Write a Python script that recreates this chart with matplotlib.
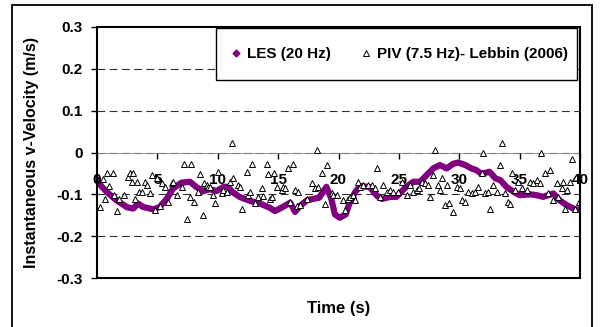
import matplotlib
matplotlib.use("Agg")
import matplotlib.pyplot as plt
from matplotlib.lines import Line2D
from matplotlib.patches import Rectangle

plt.rcParams['font.family'] = ['Liberation Sans', 'DejaVu Sans']
plt.rcParams['font.weight'] = 'bold'

# LES (20 Hz)
les_t = [0.0, 0.4, 0.8, 1.6, 2.5, 3.0, 3.4, 3.8, 4.7, 5.2, 5.8, 6.3, 7.0, 7.7, 8.25,
         8.8, 9.35, 9.9, 10.5, 10.8, 11.3, 11.8, 12.7, 13.5, 14.3, 14.75, 15.4, 16.0,
         16.4, 16.8, 17.4, 18.4, 19.0, 19.4, 19.7, 20.1, 20.6, 20.95, 21.4, 21.8, 22.6,
         23.2, 23.6, 24.3, 24.8, 25.6, 26.2, 26.75, 27.3, 27.85, 28.4, 28.95, 29.5, 29.9,
         30.5, 31.0, 31.4, 31.85, 32.5, 33.0, 33.4, 33.9, 34.5, 35.0, 35.9, 36.4, 36.95,
         37.8, 38.3, 38.9, 39.6, 40.0]
les_v = [-0.065, -0.082, -0.094, -0.114, -0.131, -0.134, -0.122, -0.130, -0.136, -0.130,
         -0.110, -0.086, -0.072, -0.070, -0.083, -0.092, -0.088, -0.092, -0.082, -0.082,
         -0.096, -0.106, -0.116, -0.122, -0.132, -0.140, -0.130, -0.120, -0.142, -0.128,
         -0.114, -0.108, -0.082, -0.110, -0.148, -0.156, -0.148, -0.118, -0.094, -0.080,
         -0.083, -0.104, -0.111, -0.106, -0.106, -0.082, -0.070, -0.070, -0.054, -0.038,
         -0.030, -0.038, -0.027, -0.024, -0.030, -0.038, -0.042, -0.051, -0.046, -0.062,
         -0.066, -0.082, -0.094, -0.102, -0.100, -0.102, -0.106, -0.098, -0.114, -0.126,
         -0.136, -0.137]

# PIV (7.5 Hz) - Lebbin (2006)
piv_t = [0.25, 0.47, 0.66, 0.86, 1.02, 1.30, 1.44, 1.63, 1.82, 2.24, 2.60, 2.73, 2.87,
         3.00, 3.15, 3.29, 3.50, 3.70, 3.98, 4.11, 4.39, 4.53, 4.80, 4.94, 5.22, 5.36,
         5.63, 5.90, 6.19, 6.32, 6.60, 7.01, 7.20, 7.43, 7.70, 7.76, 8.03, 8.39, 8.53,
         8.80, 8.86, 9.08, 9.22, 9.36, 9.63, 9.77, 10.05, 10.33, 10.46, 10.74, 11.01,
         11.22, 11.29, 11.70, 11.84, 11.98, 12.40, 12.53, 12.67, 12.81, 13.09, 13.36,
         13.64, 13.77, 14.05, 14.19, 14.33, 14.47, 14.66, 14.88, 15.30, 15.43, 15.57,
         15.84, 15.98, 16.20, 16.40, 16.59, 16.67, 16.81, 17.37, 17.78, 18.05, 18.22,
         18.33, 18.61, 18.88, 19.02, 19.44, 19.57, 19.85, 20.40, 20.54, 20.81, 20.95,
         21.23, 21.37, 21.64, 21.78, 22.05, 22.47, 22.75, 23.02, 23.21, 23.44, 23.71,
         23.99, 24.27, 24.54, 24.95, 25.23, 25.65, 25.92, 26.20, 26.48, 26.69, 26.89,
         27.16, 27.44, 27.58, 27.85, 27.98, 28.27, 28.40, 28.54, 28.82, 28.96, 29.18,
         29.46, 29.79, 30.06, 30.20, 30.48, 30.75, 31.03, 31.30, 31.58, 31.86, 31.95,
         32.13, 32.40, 32.55, 32.77, 33.10, 33.37, 33.52, 33.79, 34.06, 34.20, 34.34,
         34.60, 34.89, 35.17, 35.59, 35.86, 36.13, 36.41, 36.69, 36.77, 37.10, 37.38,
         37.52, 37.79, 38.07, 38.21, 38.48, 38.62, 38.76, 38.90, 39.17, 39.36, 39.59,
         39.94]
piv_v = [-0.130, -0.064, -0.112, -0.050, -0.080, -0.050, -0.102, -0.139, -0.112, -0.102,
         -0.059, -0.050, -0.070, -0.050, -0.112, -0.070, -0.094, -0.094, -0.070, -0.078,
         -0.098, -0.054, -0.138, -0.062, -0.128, -0.074, -0.083, -0.118, -0.074, -0.070,
         -0.102, -0.082, -0.028, -0.160, -0.106, -0.028, -0.118, -0.094, -0.051, -0.150,
         -0.074, -0.078, -0.083, -0.082, -0.102, -0.120, -0.046, -0.098, -0.090, -0.094,
         -0.070, 0.023, -0.062, -0.078, -0.082, -0.134, -0.046, -0.102, -0.094, -0.028,
         -0.120, -0.106, -0.086, -0.104, -0.028, -0.051, -0.112, -0.106, -0.050, -0.083,
         -0.090, -0.082, -0.086, -0.038, -0.118, -0.028, -0.090, -0.128, -0.094, -0.126,
         -0.110, -0.074, -0.086, 0.006, -0.082, -0.050, -0.122, -0.030, -0.098, -0.102,
         -0.102, -0.114, -0.138, -0.110, -0.106, -0.102, -0.114, -0.070, -0.082, -0.078,
         -0.078, -0.078, -0.086, -0.036, -0.106, -0.078, -0.094, -0.090, -0.094, -0.094,
         -0.070, -0.102, -0.078, -0.094, -0.090, -0.086, -0.070, -0.074, -0.078, -0.106,
         -0.054, 0.007, -0.078, -0.090, -0.062, -0.126, -0.078, -0.120, -0.142, -0.082,
         -0.086, -0.114, -0.118, -0.094, -0.098, -0.094, -0.082, -0.050, 0.000, -0.098,
         -0.094, -0.134, -0.078, -0.094, -0.030, 0.023, -0.098, -0.118, -0.122, -0.050,
         -0.090, -0.070, -0.086, -0.090, -0.070, -0.074, -0.066, -0.074, 0.000, -0.050,
         -0.098, -0.042, -0.114, -0.074, -0.106, -0.086, -0.070, -0.134, -0.090, -0.070,
         -0.015, -0.134, -0.118]

x_ticks = [0, 5, 10, 15, 20, 25, 30, 35, 40]
y_ticks = [-0.3, -0.2, -0.1, 0, 0.1, 0.2, 0.3]
y_labels = ['-0.3', '-0.2', '-0.1', '0', '0.1', '0.2', '0.3']

purple = '#800080'

fig = plt.figure(figsize=(6.0, 3.27), dpi=100)
ax = fig.add_axes([97 / 600, 49 / 327, 483 / 600, 251 / 327])

# outer chart border (runs off the bottom of the picture)
fig.patches.append(Rectangle((12 / 600, -0.05), 580 / 600, 1 - 5 / 327 + 0.05,
                             transform=fig.transFigure, fill=False,
                             edgecolor='black', linewidth=1.3))

for yv in [-0.2, -0.1, 0, 0.1, 0.2]:
    ax.axhline(yv, color='#303030', linestyle=(0, (7, 4)), linewidth=0.8, zorder=1)

ax.plot(les_t, les_v, color=purple, linewidth=4.5, solid_capstyle='round',
        solid_joinstyle='round', zorder=2)
ax.plot(piv_t, piv_v, linestyle='none', marker='^', markersize=5,
        markerfacecolor='white', markeredgecolor='black', markeredgewidth=0.7, zorder=3)

ax.set_xlim(0, 40)
ax.set_ylim(-0.3, 0.3)

ax.spines['bottom'].set_position(('data', 0))
ax.spines['bottom'].set_color('#909090')
ax.spines['bottom'].set_linewidth(0.6)
for s in ['left', 'right', 'top']:
    ax.spines[s].set_visible(False)
ax.add_patch(Rectangle((0, 0), 1, 1, transform=ax.transAxes, fill=False,
                       edgecolor='black', linewidth=1.5, clip_on=False, zorder=5))

ax.set_xticks(x_ticks)
ax.set_xticklabels([str(t) for t in x_ticks], fontsize=11, fontweight='bold')
ax.set_yticks(y_ticks)
ax.set_yticklabels(y_labels, fontsize=11, fontweight='bold')
ax.tick_params(axis='x', direction='out', length=4, width=1, color='black', pad=11)
ax.tick_params(axis='y', direction='out', length=4, width=1, pad=6)
ax.set_axisbelow(False)
for lbl in ax.get_xticklabels():
    lbl.set_zorder(10)

ax.set_xlabel('Time (s)', fontsize=12, fontweight='bold', labelpad=0)
ax.xaxis.set_label_coords(0.5, -0.09)
ax.set_ylabel('Instantaneous v-Velocity (m/s)', fontsize=11.5, fontweight='bold')
ax.yaxis.set_label_coords(-0.12, 0.5)

# legend frame drawn by hand (Excel-style box, wider than tall padding)
ax.add_patch(Rectangle((0.246, 0.789), 0.748, 0.207, transform=ax.transAxes,
                       facecolor='white', edgecolor='black', linewidth=1.0,
                       clip_on=False, zorder=6))

handles = [Line2D([], [], linestyle='none', marker='D', markersize=3.5,
                  color=purple, markeredgecolor=purple),
           Line2D([], [], linestyle='none', marker='^', markersize=5,
                  markerfacecolor='white', markeredgecolor='black', markeredgewidth=0.7)]
leg = ax.legend(handles, ['LES (20 Hz)', 'PIV (7.5 Hz)- Lebbin (2006)'], ncol=2,
                loc='center', bbox_to_anchor=(0.627, 0.892), borderaxespad=0,
                frameon=False, borderpad=0, handlelength=0.6, handletextpad=0.4,
                columnspacing=2.0, prop={'weight': 'bold', 'size': 11})
leg.set_zorder(7)

fig.savefig('out.png', dpi=100)
